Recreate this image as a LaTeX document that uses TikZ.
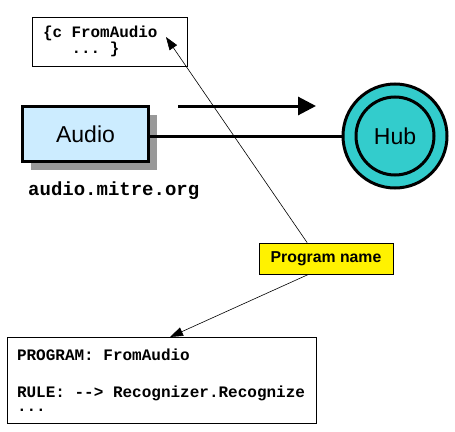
\documentclass[tikz,border=0pt]{standalone}
\usepackage{fontspec}
\setmainfont{Liberation Sans}
\setmonofont{Liberation Mono}[WordSpace={1,0,0}]
\newcommand{\ms}{\hspace*{0.6em}}
\usetikzlibrary{arrows.meta,shadows,calc}
\definecolor{audioblue}{HTML}{CCECFF}
\definecolor{hubteal}{HTML}{33CCCC}
\begin{document}
\begin{tikzpicture}[x=1pt,y=-1pt,
  codebox/.style={draw=black,line width=0.8pt,fill=white,align=left,inner ysep=4pt},
  thin/.style={draw=black,line width=0.6pt,-{Triangle[length=13pt,width=9pt]}},
  thick/.style={draw=black,line width=3pt}]
\useasboundingbox (0,0) rectangle (455,431);
% top code box
\node[codebox,text width=133pt,inner xsep=11pt,minimum height=49pt] (top) at (109.5,41.5)
  {\ttfamily\bfseries\fontsize{15.9}{20}\selectfont \{c\ms FromAudio\\\ms\ms\ms...\ms\}};
% audio
\node[draw=black,line width=3pt,fill=audioblue,minimum width=126pt,minimum height=55pt,
  drop shadow={shadow xshift=8pt,shadow yshift=-8pt,fill=black!40,opacity=1}] (audio) at (85.5,134)
  {\fontsize{23}{26}\selectfont Audio};
\node[anchor=base west,inner sep=0pt] (host) at (28,195)
  {\ttfamily\bfseries\fontsize{19}{20}\selectfont audio.mitre.org};
% hub
\node[circle,draw=black,line width=3pt,fill=hubteal,minimum size=104pt,inner sep=0pt] (hub) at (395,136) {};
\node[circle,draw=black,line width=3pt,fill=hubteal,minimum size=78pt,inner sep=0pt] (hubin) at (395,136)
  {\fontsize{23}{26}\selectfont Hub};
\draw[thick] (audio.east |- hub.west) -- (hub.west);
\coordinate (as) at (178,106);
\coordinate (ae) at (316,106);
\draw[thick,-{Triangle[length=18pt,width=18pt]}] (as) -- (ae);
% program name
\node[draw=black,line width=0.8pt,fill=yellow,minimum width=134pt,minimum height=31pt,inner sep=0pt] (prog) at (326,258.5)
  {\bfseries\fontsize{15.8}{17}\selectfont Program name};
% bottom code box
\node[codebox,text width=289pt,inner xsep=10pt,minimum height=86pt] (bot) at (161.5,380)
  {\ttfamily\bfseries\fontsize{16}{20}\selectfont PROGRAM:\ms FromAudio\\[17pt]RULE:\ms -{}->\ms Recognizer.Recognize\\[2pt]...};
% pointers
\coordinate (t1) at (166,37);
\coordinate (t2) at (170,337);
\draw[thin] ($(prog.north west)!0.36!(prog.north east)$) -- (t1);
\draw[thin] ($(prog.south west)!0.37!(prog.south east)$) -- (t2);
\end{tikzpicture}
\end{document}
